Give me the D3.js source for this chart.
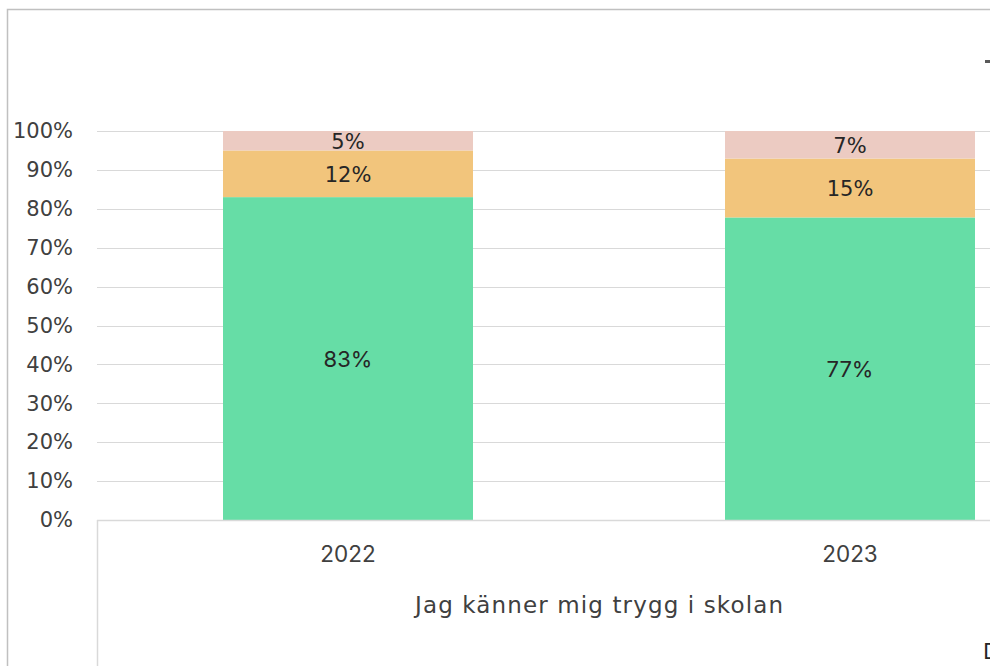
<!DOCTYPE html>
<html>
<head>
<meta charset="utf-8">
<script src="https://cdn.jsdelivr.net/npm/d3@7"></script>
<style>
    body { margin: 0; background: #ffffff; }
    svg { display: block; }
</style>
</head>
<body>
<div id="chart"></div>
<script>
"use strict";

// Data
let years = ["2022", "2023"];
let seriesNames = ["Ja", "Delvis", "Nej"];
let yesValues = [83, 77];
let partlyValues = [12, 15];
let noValues = [5, 7];
let yTicks = [0, 10, 20, 30, 40, 50, 60, 70, 80, 90, 100];
let axisTitle = "Jag känner mig trygg i skolan";

function drawChart() {

    let width = 990;
    let height = 666;
    let colours = ["#66dda6", "#f2c57c", "#eccbc2"];
    let gothic = "'DejaVu Sans', sans-serif";
    let plain = "Inter, 'Open Sans', sans-serif";
    let labelFonts = [plain, gothic, gothic];
    let labelSizes = [22, 21, 21];
    let textCol = "#404040";

    // Build rows for the stack
    let rows = years.map(function (y, i) {
        return {year: y, Ja: yesValues[i], Delvis: partlyValues[i], Nej: noValues[i]};
    });
    let stack = d3.stack().keys(seriesNames).offset(d3.stackOffsetExpand);
    let layers = stack(rows);

    let svg = d3.select("#chart").append("svg")
        .attr("width", width).attr("height", height);

    // Outer chart frame (partly cut off)
    svg.append("rect").attr("x", 7.5).attr("y", 9.5)
        .attr("width", 1100).attr("height", 800)
        .attr("fill", "none").attr("stroke", "#c0c0c0").attr("stroke-width", 1.5);

    // Scales
    let xScale = d3.scaleBand().domain(years).range([97, 1101]).paddingInner(0).paddingOuter(0);
    let barWidth = 250;
    let yScale = d3.scaleLinear().domain([0, 1]).range([520, 131]);

    // Gridlines
    svg.append("g").selectAll("line").data(yTicks.slice(1)).enter()
        .append("line")
        .attr("x1", 97).attr("x2", width)
        .attr("y1", function (d) { return Math.round(yScale(d / 100)) + 0.5; })
        .attr("y2", function (d) { return Math.round(yScale(d / 100)) + 0.5; })
        .attr("stroke", "#d9d9d9").attr("stroke-width", 1);

    // Y axis labels
    let yAxis = d3.axisLeft(yScale)
        .tickValues(yTicks.map(function (d) { return d / 100; }))
        .tickFormat(function (d) { return Math.round(d * 100) + "%"; })
        .tickSize(0).tickPadding(0);
    let yG = svg.append("g").attr("transform", "translate(73,0)").call(yAxis);
    yG.select(".domain").remove();
    yG.selectAll("text")
        .attr("font-family", gothic).attr("font-size", 21)
        .attr("fill", textCol);

    // Bars
    let groups = svg.append("g").selectAll("g").data(layers).enter()
        .append("g").attr("fill", function (d, i) { return colours[i]; });
    groups.selectAll("rect").data(function (d) { return d; }).enter()
        .append("rect")
        .attr("x", function (d) { return xScale(d.data.year) + xScale.bandwidth() / 2 - barWidth / 2; })
        .attr("y", function (d) { return yScale(d[1]); })
        .attr("width", barWidth)
        .attr("height", function (d) { return yScale(d[0]) - yScale(d[1]); });

    // Bar labels
    layers.forEach(function (layer, i) {
        svg.append("g").selectAll("text").data(layer).enter()
            .append("text")
            .attr("x", function (d) { return xScale(d.data.year) + xScale.bandwidth() / 2; })
            .attr("y", function (d) { return (yScale(d[0]) + yScale(d[1])) / 2 + 1; })
            .attr("dy", "0.35em")
            .attr("text-anchor", "middle")
            .attr("font-family", labelFonts[i]).attr("font-size", labelSizes[i])
            .attr("fill", "#262626")
            .text(function (d) { return d.data[layer.key] + "%"; });
    });

    // X axis line and category divider
    svg.append("line").attr("x1", 97).attr("x2", width)
        .attr("y1", 520.5).attr("y2", 520.5)
        .attr("stroke", "#d9d9d9").attr("stroke-width", 1.5);
    svg.append("line").attr("x1", 97.5).attr("x2", 97.5)
        .attr("y1", 520).attr("y2", height)
        .attr("stroke", "#d9d9d9").attr("stroke-width", 1.5);

    // X axis labels
    let xAxis = d3.axisBottom(xScale).tickSize(0).tickPadding(0);
    let xG = svg.append("g").attr("transform", "translate(0,554)").call(xAxis);
    xG.select(".domain").remove();
    xG.selectAll("text")
        .attr("dy", "0.35em")
        .attr("font-family", plain).attr("font-size", 22.5)
        .attr("fill", textCol);

    svg.append("text").attr("x", 599).attr("y", 605).attr("dy", "0.35em")
        .attr("text-anchor", "middle")
        .attr("font-family", gothic).attr("font-size", 23)
        .attr("textLength", 368).attr("lengthAdjust", "spacing")
        .attr("fill", textCol).text(axisTitle);

    // Legend and note, cut off at the right edge
    svg.append("rect").attr("x", 985).attr("y", 60).attr("width", 12).attr("height", 3)
        .attr("fill", "#595959");
    svg.append("text").attr("x", 983).attr("y", 659)
        .attr("font-family", gothic).attr("font-size", 21)
        .attr("fill", "#262626").text("D");
}

drawChart();
</script>
</body>
</html>
